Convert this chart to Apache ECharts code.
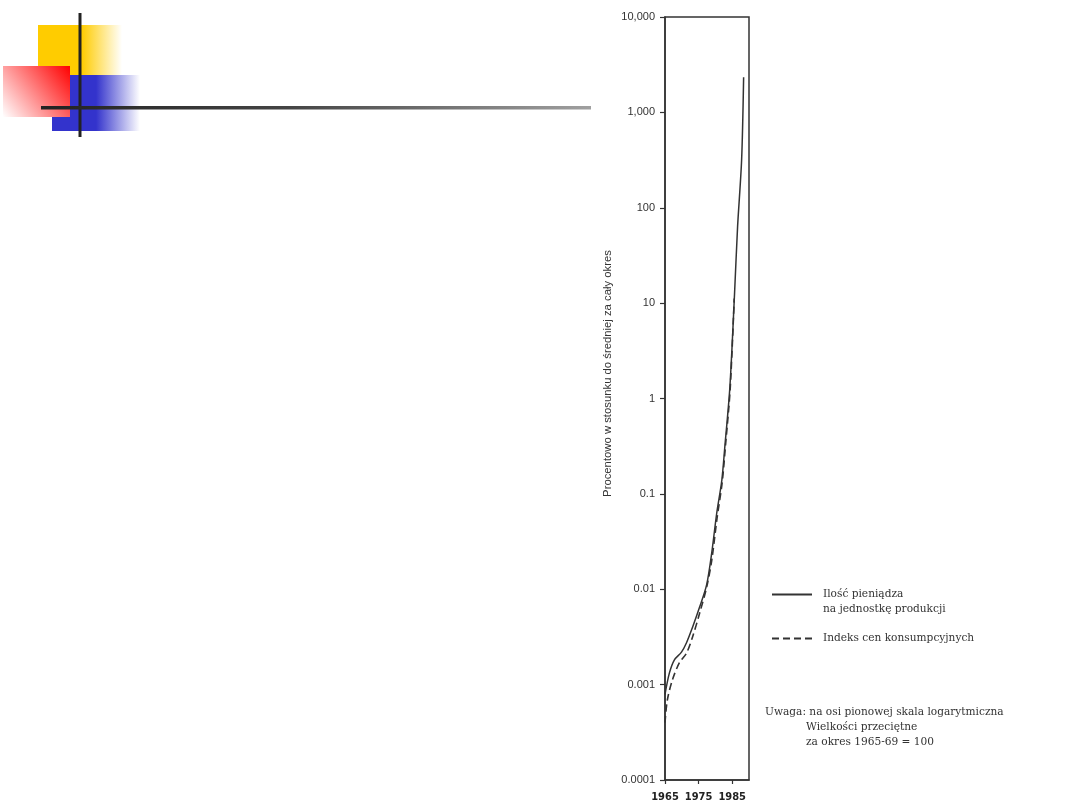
<!DOCTYPE html>
<html>
<head>
<meta charset="utf-8">
<script src="https://cdn.jsdelivr.net/npm/echarts@6/dist/echarts.min.js"></script>
<style>html,body{margin:0;padding:0;background:#fff}#c{width:1080px;height:810px}</style>
</head>
<body>
<div id="c"></div>
<script>
// Data (x = year, y = percent of period average, log scale)
const moneyName = 'Ilość pieniądza na jednostkę produkcji';
const cpiName = 'Indeks cen konsumpcyjnych';
const moneyPerUnit = [
  [1965.0, 0.00079], [1966.3, 0.00132], [1967.8, 0.00182], [1969.9, 0.00219],
  [1971.4, 0.00275], [1973.2, 0.0040], [1975.3, 0.0065], [1977.4, 0.0112],
  [1978.9, 0.024], [1980.4, 0.063], [1981.9, 0.138], [1982.8, 0.31],
  [1984.3, 1.3], [1985.7, 12.6], [1986.6, 63], [1987.8, 316], [1988.4, 2340]
];
const consumerPrices = [
  [1965.0, 0.00040], [1965.7, 0.00069], [1967.2, 0.00112], [1969.3, 0.0017],
  [1971.4, 0.00214], [1973.2, 0.00316], [1975.3, 0.0056], [1977.4, 0.0105],
  [1978.9, 0.020], [1980.5, 0.056], [1982.0, 0.13], [1983.0, 0.32],
  [1984.4, 1.26], [1985.6, 11.2]
];
const yTickLabels = ['0.0001', '0.001', '0.01', '0.1', '1', '10', '100', '1,000', '10,000'];
const yAxisTitle = 'Procentowo w stosunku do średniej za cały okres';
const noteLines = [
  'Uwaga: na osi pionowej skala logarytmiczna',
  'Wielkości przeciętne',
  'za okres 1965-69 = 100'
];

const ink = '#333';
const chart = echarts.init(document.getElementById('c'));
chart.setOption({
  backgroundColor: '#fff',
  animation: false,
  grid: { left: 665, right: 331, top: 17, bottom: 30, show: true, borderColor: ink, borderWidth: 1.5, backgroundColor: 'transparent' },
  xAxis: {
    type: 'value', min: 1965, max: 1990, interval: 10,
    axisLine: { lineStyle: { color: ink, width: 1.5 } },
    axisTick: { show: true, length: 4, lineStyle: { color: ink, width: 1.2 } },
    splitLine: { show: false },
    axisLabel: { showMaxLabel: false, color: '#222', fontFamily: 'DejaVu Sans Condensed', fontSize: 11, fontWeight: 'bold', margin: 12,
      formatter: v => String(v) }
  },
  yAxis: {
    type: 'log', logBase: 10, min: 0.0001, max: 10000,
    name: yAxisTitle, nameLocation: 'middle', nameGap: 52, nameRotate: 90,
    nameTextStyle: { color: ink, fontFamily: 'Liberation Sans', fontSize: 11.3, padding: [0, 0, 0, 50] },
    axisLine: { show: true, lineStyle: { color: ink, width: 1.5 } },
    axisTick: { show: true, length: 5, lineStyle: { color: ink, width: 1.2 } },
    splitLine: { show: false },
    minorTick: { show: false },
    axisLabel: { color: ink, fontFamily: 'Liberation Sans', fontSize: 11, margin: 10,
      formatter: v => yTickLabels[Math.round(Math.log10(v)) + 4] || '' }
  },
  legend: {
    orient: 'vertical', left: 766, top: 567, itemWidth: 40, itemHeight: 10, itemGap: 14,
    data: [moneyName, cpiName],
    itemStyle: { opacity: 0, color: 'transparent', borderWidth: 0 },
    formatter: n => n === moneyName ? ' \nIlość pieniądza\nna jednostkę produkcji' : n,
    textStyle: { color: ink, fontFamily: 'DejaVu Serif', fontSize: 10.6, lineHeight: 15, padding: [0, 0, 0, 6] }
  },
  series: [
    { name: moneyName, type: 'line', data: moneyPerUnit, smooth: 0.3, symbol: 'none',
      lineStyle: { color: ink, width: 1.5 }, itemStyle: { color: ink } },
    { name: cpiName, type: 'line', data: consumerPrices, smooth: 0.3, symbol: 'none',
      lineStyle: { color: ink, width: 1.6, type: [7, 4] }, itemStyle: { color: ink } }
  ],
  graphic: [
    // decorative slide ornament
    { type: 'rect', z: 1, shape: { x: 38, y: 25, width: 84, height: 75 },
      style: { fill: { type: 'linear', x: 0, y: 0, x2: 1, y2: 0, colorStops: [
        { offset: 0, color: '#FFCC00' }, { offset: 0.52, color: '#FFCC00' }, { offset: 1, color: '#FFFFFF' }] } } },
    { type: 'rect', z: 2, shape: { x: 52, y: 75, width: 88, height: 56 },
      style: { fill: { type: 'linear', x: 0, y: 0, x2: 1, y2: 0, colorStops: [
        { offset: 0, color: '#3333CC' }, { offset: 0.5, color: '#3333CC' }, { offset: 1, color: '#FFFFFF' }] } } },
    { type: 'rect', z: 3, shape: { x: 3, y: 66, width: 67, height: 51 },
      style: { fill: { type: 'linear', x: 1, y: 0, x2: 0, y2: 1, colorStops: [
        { offset: 0, color: '#FF0000' }, { offset: 1, color: '#FFFFFF' }] } } },
    { type: 'rect', z: 4, shape: { x: 78.5, y: 13, width: 3, height: 124 }, style: { fill: '#222' } },
    { type: 'rect', z: 4, shape: { x: 41, y: 106, width: 550, height: 3.5 },
      style: { fill: { type: 'linear', x: 0, y: 0, x2: 1, y2: 0, colorStops: [
        { offset: 0, color: '#222222' }, { offset: 0.45, color: '#444444' }, { offset: 1, color: '#A0A0A0' }] } } },
    // note text
    { type: 'text', left: 765, top: 707, style: { text: noteLines[0], fill: ink, font: '10.6px "DejaVu Serif"' } },
    { type: 'text', left: 806, top: 722, style: { text: noteLines[1], fill: ink, font: '10.6px "DejaVu Serif"' } },
    { type: 'text', left: 806, top: 737, style: { text: noteLines[2], fill: ink, font: '10.6px "DejaVu Serif"' } }
  ]
});
</script>
</body>
</html>
